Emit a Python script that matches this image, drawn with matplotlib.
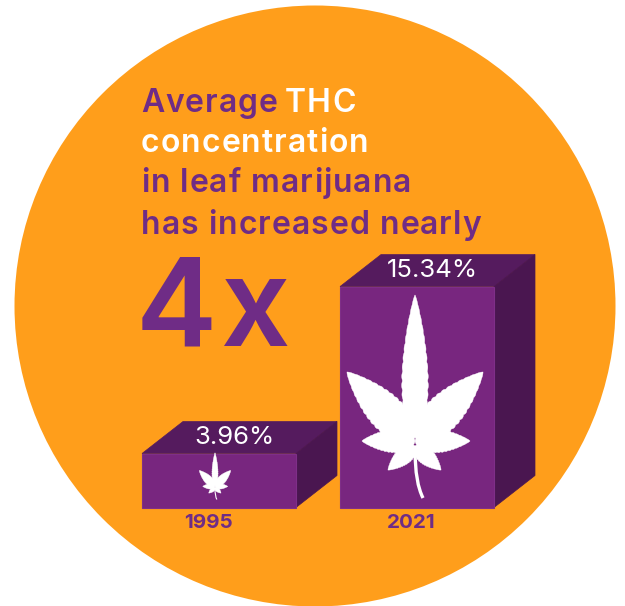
import numpy as np
import matplotlib.pyplot as plt
from matplotlib.patches import Circle, Polygon, PathPatch
from matplotlib.path import Path

years = ['1995', '2021']
thc_pct = [3.96, 15.34]

ORANGE = '#FF9E1B'
PURPLE = '#6F2C86'
FRONT = '#78267F'
TOP = '#551B5E'
SIDE = '#4A1650'

W, H = 625, 606
BASE_Y = 507.5
PX_PER_PCT = 14.67
BASE_PCT = 0.28
BAR_W = 154
DEPTH_X, DEPTH_Y = 41, 32
bar_left = [142, 340]

fig = plt.figure(figsize=(W / 100, H / 100), dpi=100, facecolor='white')

# pixel axes for the disc and the text
bg = fig.add_axes([0, 0, 1, 1])
bg.set_xlim(0, W)
bg.set_ylim(H, 0)
bg.axis('off')
bg.add_patch(Circle((315, 306), 300.5, fc=ORANGE, ec='none'))


def spaced_text(ax, x, y, s, size, color, weight='semibold', family='Inter', gap=0.0):
    # matplotlib has no letter spacing, so place each character by its prefix width
    r = fig.canvas.get_renderer()
    for i, ch in enumerate(s):
        if i:
            probe = ax.text(0, 0, s[:i + 1], fontsize=size, fontweight=weight, family=family)
            one = ax.text(0, 0, ch, fontsize=size, fontweight=weight, family=family)
            dx = probe.get_window_extent(r).width - one.get_window_extent(r).width
            probe.remove()
            one.remove()
        else:
            dx = 0
        ax.text(x + dx + gap * i, y, ch, fontsize=size, fontweight=weight, family=family,
                color=color, va='baseline', ha='left')


spaced_text(bg, 141, 112, 'Average', 23, PURPLE, gap=1.05)
spaced_text(bg, 285, 112, 'THC', 23, 'white', gap=1.05)
spaced_text(bg, 141, 152, 'concentration', 23, 'white', gap=1.05)
spaced_text(bg, 141, 192, 'in leaf marijuana', 23, PURPLE, gap=1.05)
spaced_text(bg, 141, 234, 'has increased nearly', 23, PURPLE, gap=1.05)
spaced_text(bg, 136, 346.5, '4x', 88, PURPLE, gap=2.5)

# value axes: same width, y in percent
ax = fig.add_axes([0, 0, 1, 1], zorder=2)
ax.set_xlim(0, W)
ax.set_ylim(BASE_PCT + (BASE_Y - H) / PX_PER_PCT, BASE_PCT + BASE_Y / PX_PER_PCT)
ax.axis('off')
ax.patch.set_alpha(0)

dz = DEPTH_Y / PX_PER_PCT
for left, val in zip(bar_left, thc_pct):
    right = left + BAR_W
    ax.bar(left, val - BASE_PCT, BAR_W, bottom=BASE_PCT, align='edge', color=FRONT,
           edgecolor='#7F2F88', linewidth=0.8, zorder=3)
    ax.add_patch(Polygon([(left, val), (left + DEPTH_X, val + dz), (right + DEPTH_X, val + dz), (right, val)],
                         fc=TOP, ec=TOP, lw=0.5, zorder=2))
    ax.add_patch(Polygon([(right, val), (right + DEPTH_X, val + dz), (right + DEPTH_X, BASE_PCT + dz), (right, BASE_PCT)],
                         fc=SIDE, ec=SIDE, lw=0.5, zorder=2))
    ax.text(left + 92, val + dz * 0.5, f'{val:.2f}%', color='white', fontsize=18.5,
            family='Inter', ha='center', va='center', zorder=4)


def leaflet(bx, by, tip_x, tip_y, width, teeth=15):
    # serrated lens running from its base out to the tip
    t = np.linspace(0, 1, 160)
    prof = width * np.sin(np.pi * t ** 0.72) ** 0.8
    prof = prof * (1 + 0.07 * np.abs(np.sin(teeth * np.pi * t)))
    dx, dy = tip_x - bx, tip_y - by
    n = np.hypot(dx, dy)
    ux, uy = dx / n, dy / n
    xs = np.r_[bx + dx * t + uy * prof, (bx + dx * t - uy * prof)[::-1]]
    ys = np.r_[by + dy * t - ux * prof, (by + dy * t + ux * prof)[::-1]]
    return np.c_[xs, ys]


# base offset, tip offset and half width of each leaflet, at full size
leaf_parts = [
    (0, -10, 0, -153, 12.5),
    (-2, -8, -68, -76, 17),
    (2, -8, 68, -76, 17),
    (0, -7, -53, -7, 11),
    (0, -7, 55, -7, 11),
    (0, -2, -27, 22, 8),
    (0, -2, 26, 22, 8),
]
stem_pts = [(0, 0), (0, 25), (3, 40), (8, 50)]


def draw_leaf(cx, cy, scale):
    for bx, by, tx, ty, w in leaf_parts:
        outline = leaflet(cx + bx * scale, cy + by * scale, cx + tx * scale, cy + ty * scale, w * scale)
        ax.add_patch(Polygon(outline, fc='white', ec='white', lw=0.3, transform=bg.transData, zorder=5))
    verts = [(cx + px * scale, cy + py * scale) for px, py in stem_pts]
    stem = Path(verts, [Path.MOVETO, Path.CURVE4, Path.CURVE4, Path.CURVE4])
    ax.add_patch(PathPatch(stem, fc='none', ec='white', lw=max(2.4 * scale, 0.8),
                           transform=bg.transData, zorder=5))


draw_leaf(415, 448, 1.0)
draw_leaf(215, 488, 0.23)

for x, yr in zip([208.5, 411.5], years):
    bg.text(x, 528, yr, color=PURPLE, fontsize=14.8, fontweight='bold', family='Inter',
            ha='center', va='baseline')

fig.savefig('out.png', dpi=100, facecolor='white')
